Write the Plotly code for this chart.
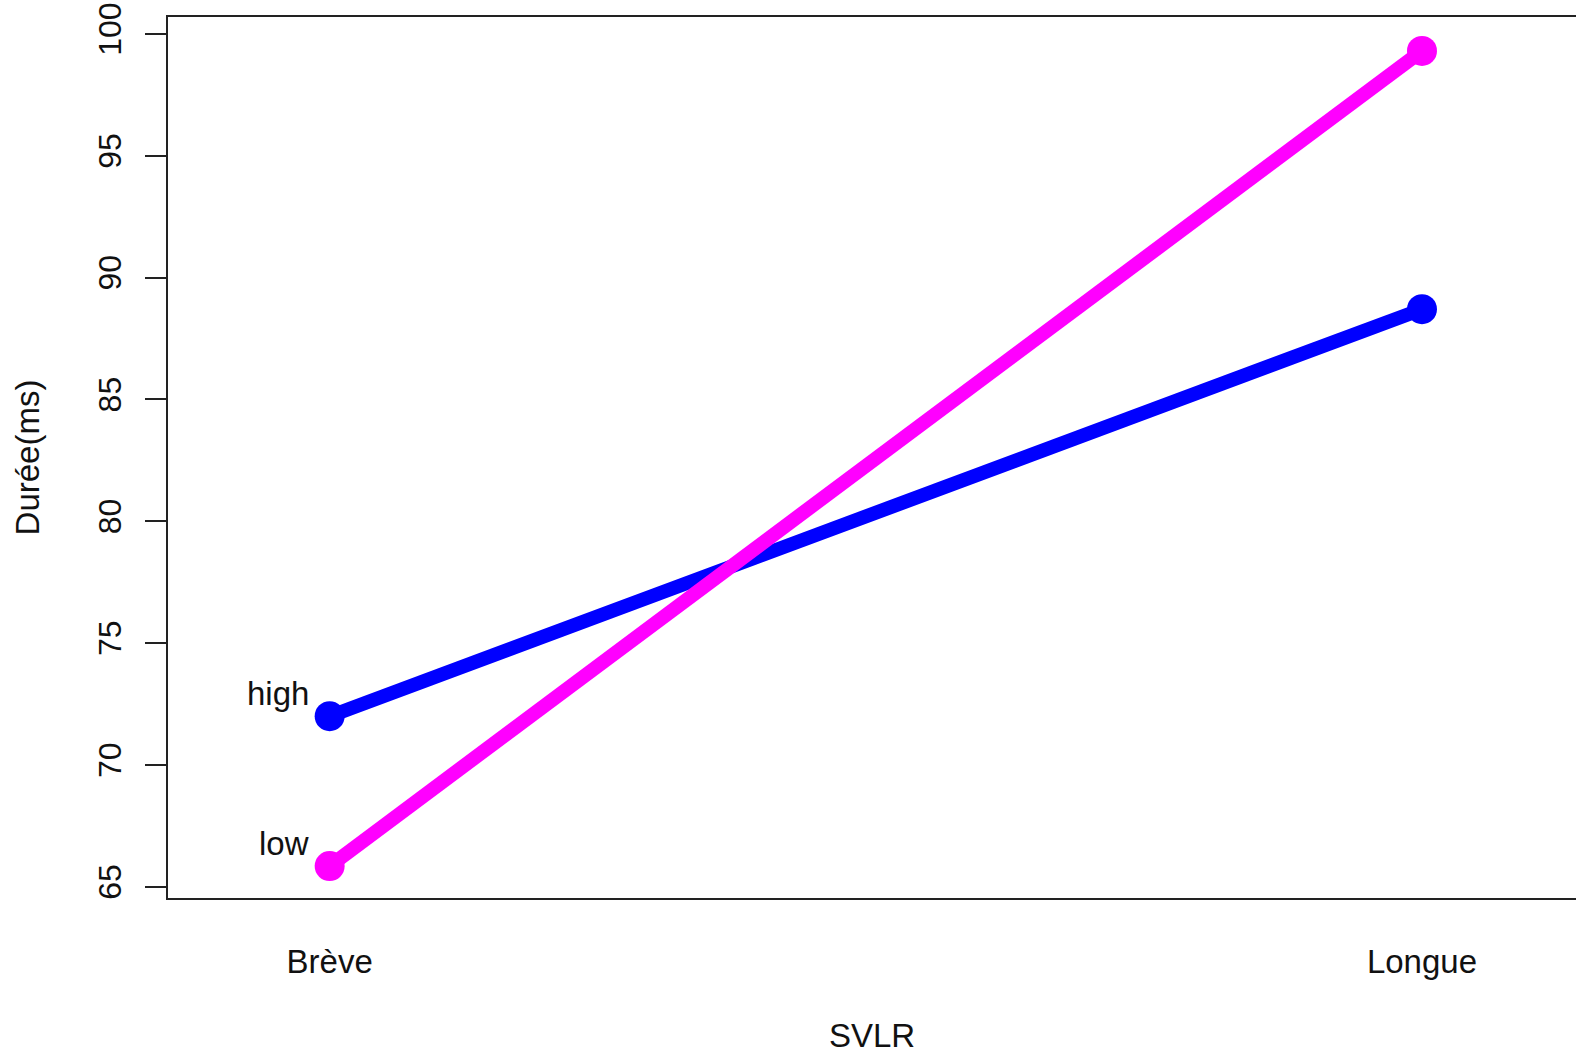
import plotly.graph_objects as go

categories = ["Brève", "Longue"]
cat_pos = [1, 2]
series_names = ["high", "low"]
high_values = [72.0, 88.7]
low_values = [65.85, 99.3]
y_ticks = [65, 70, 75, 80, 85, 90, 95, 100]

colors = {"high": "#0000FF", "low": "#FF00FF"}
FONT = "Liberation Sans, Arial, sans-serif"

fig = go.Figure()
for name, vals in (("high", high_values), ("low", low_values)):
    fig.add_trace(go.Scatter(
        x=cat_pos, y=vals, mode="lines+markers", name=name,
        line=dict(color=colors[name], width=14),
        marker=dict(color=colors[name], size=30),
        showlegend=False,
    ))
    fig.add_annotation(
        x=cat_pos[0], y=vals[0], xref="x", yref="y", text=name,
        showarrow=False, xanchor="right", yanchor="middle",
        xshift=-19, yshift=23, font=dict(family=FONT, size=33, color="#111"),
    )

fig.update_layout(
    width=1576, height=1054,
    margin=dict(l=168, r=0, t=17, b=156),
    paper_bgcolor="white", plot_bgcolor="white",
    font=dict(family=FONT, size=32, color="#111"),
)
fig.update_xaxes(
    range=[0.852, 2.141], tickvals=cat_pos, ticktext=categories,
    tickfont=dict(size=33),
    showgrid=False, zeroline=False, showline=True, linecolor="#222", linewidth=2,
    mirror=True, ticks="", ticklabelstandoff=33, automargin=False,
    title=dict(text="SVLR", standoff=53, font=dict(size=33)),
)
fig.update_yaxes(
    range=[64.54, 100.69], tickvals=y_ticks, ticktext=[str(v) for v in y_ticks],
    tickangle=-90, showgrid=False, zeroline=False, showline=True, linecolor="#222",
    linewidth=2, ticks="outside", ticklen=21, tickwidth=2, tickcolor="#222",
    ticklabelstandoff=11, automargin=False, ticklabeloverflow="allow",
    title=dict(text="Durée(ms)", standoff=43, font=dict(size=33)),
)

fig.write_html(
    "out.html",
    config={"displayModeBar": False},
    post_script="document.body.style.margin='0';document.body.style.overflow='hidden';",
)
